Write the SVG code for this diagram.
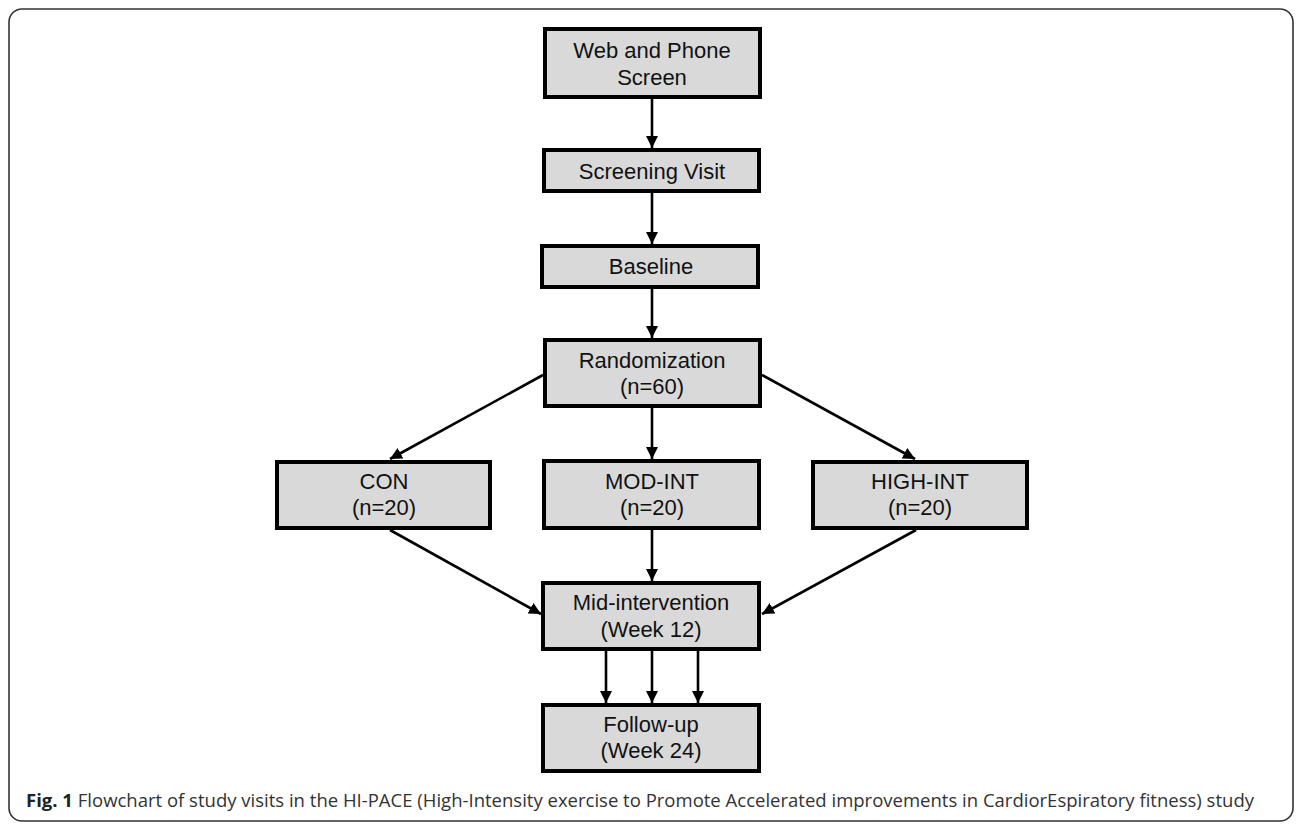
<svg xmlns="http://www.w3.org/2000/svg" width="1296" height="824" viewBox="0 0 1296 824">
  <style>
    .box { fill: #d9d9d9; stroke: #000; stroke-width: 4; }
    .lbl { font-family: "Liberation Sans", Arial, sans-serif; font-size: 22px; fill: #111; text-anchor: middle; }
    .edge { stroke: #000; stroke-width: 2.6; fill: none; marker-end: url(#arrow); }
    .cap { font-family: "Open Sans", "Noto Sans", sans-serif; font-size: 18px; fill: #333; }
  </style>
  <defs>
    <marker id="arrow" markerUnits="userSpaceOnUse" markerWidth="13" markerHeight="12" refX="12" refY="6" orient="auto">
      <path d="M0,0 L12,6 L0,12 z" fill="#000"/>
    </marker>
  </defs>
  <rect x="0" y="0" width="1296" height="824" fill="#fff"/>
  <rect x="9" y="9" width="1284" height="812" rx="13" ry="13" fill="none" stroke="#333" stroke-width="1.6"/>

  <g id="connectors">
    <line class="edge" x1="652" y1="99" x2="652" y2="148"/>
    <line class="edge" x1="652" y1="193" x2="652" y2="244"/>
    <line class="edge" x1="652" y1="289" x2="652" y2="338"/>
    <line class="edge" x1="543" y1="375" x2="390" y2="459"/>
    <line class="edge" x1="652" y1="408" x2="652" y2="459"/>
    <line class="edge" x1="762" y1="375" x2="915" y2="459"/>
    <line class="edge" x1="390" y1="530" x2="541" y2="614"/>
    <line class="edge" x1="652" y1="530" x2="652" y2="581"/>
    <line class="edge" x1="916" y1="530" x2="762" y2="614"/>
    <line class="edge" x1="606" y1="651" x2="606" y2="703"/>
    <line class="edge" x1="652" y1="651" x2="652" y2="703"/>
    <line class="edge" x1="698" y1="651" x2="698" y2="703"/>
  </g>

  <g id="web">
    <rect class="box" x="545" y="29" width="215" height="68"/>
    <text class="lbl" x="652" y="58">Web and Phone</text>
    <text class="lbl" x="652" y="85">Screen</text>
  </g>
  <g id="screening">
    <rect class="box" x="544" y="150" width="215" height="41"/>
    <text class="lbl" x="652" y="179">Screening Visit</text>
  </g>
  <g id="baseline">
    <rect class="box" x="542" y="246" width="216" height="41"/>
    <text class="lbl" x="651" y="274">Baseline</text>
  </g>
  <g id="randomization">
    <rect class="box" x="545" y="340" width="215" height="66"/>
    <text class="lbl" x="652" y="368">Randomization</text>
    <text class="lbl" x="652" y="394">(n=60)</text>
  </g>
  <g id="con">
    <rect class="box" x="277" y="462" width="213" height="66"/>
    <text class="lbl" x="384" y="489">CON</text>
    <text class="lbl" x="384" y="515">(n=20)</text>
  </g>
  <g id="modint">
    <rect class="box" x="544" y="461" width="215" height="67"/>
    <text class="lbl" x="652" y="489">MOD-INT</text>
    <text class="lbl" x="652" y="515">(n=20)</text>
  </g>
  <g id="highint">
    <rect class="box" x="813" y="462" width="214" height="66"/>
    <text class="lbl" x="920" y="489">HIGH-INT</text>
    <text class="lbl" x="920" y="515">(n=20)</text>
  </g>
  <g id="mid">
    <rect class="box" x="543" y="583" width="216" height="66"/>
    <text class="lbl" x="651" y="610">Mid-intervention</text>
    <text class="lbl" x="651" y="637">(Week 12)</text>
  </g>
  <g id="followup">
    <rect class="box" x="543" y="705" width="216" height="66"/>
    <text class="lbl" x="651" y="732">Follow-up</text>
    <text class="lbl" x="651" y="758">(Week 24)</text>
  </g>

  <text class="cap" x="26" y="807" textLength="1228" lengthAdjust="spacingAndGlyphs"><tspan font-weight="bold" fill="#222">Fig. 1</tspan> Flowchart of study visits in the HI-PACE (High-Intensity exercise to Promote Accelerated improvements in CardiorEspiratory fitness) study</text>
</svg>
